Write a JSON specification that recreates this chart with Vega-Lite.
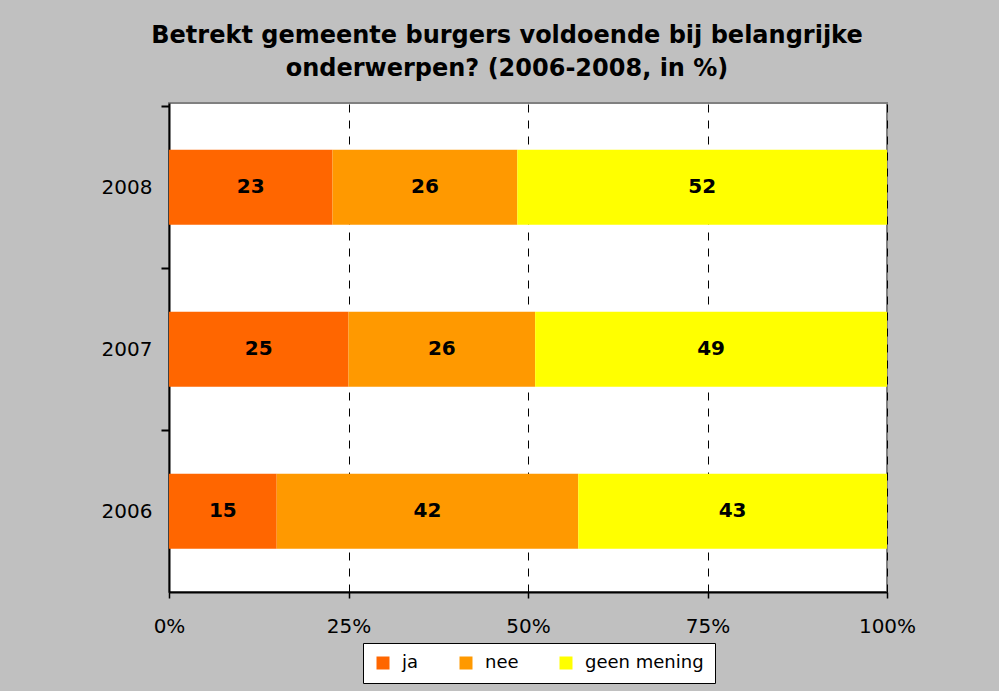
{
  "$schema": "https://vega.github.io/schema/vega-lite/v6.json",
  "width": 718,
  "height": 489,
  "autosize": {"type": "none"},
  "padding": {"left": 169, "top": 103, "right": 112, "bottom": 99},
  "background": "#C0C0C0",
  "title": {
    "text": ["Betrekt gemeente burgers voldoende bij belangrijke", "onderwerpen? (2006-2008, in %)"],
    "font": "DejaVu Sans",
    "fontSize": 24,
    "fontWeight": "bold",
    "color": "#000000",
    "lineHeight": 33,
    "anchor": "middle",
    "dx": -21,
    "offset": 22
  },
  "config": {
    "view": {"fill": "#FFFFFF", "stroke": "#808080", "strokeWidth": 2},
    "axis": {"labelFont": "DejaVu Sans", "labelFontSize": 20, "labelColor": "#000000"}
  },
  "data": {
    "values": [
      {"jaar": "2008", "antwoord": "ja", "volg": 1, "pct": 23},
      {"jaar": "2008", "antwoord": "nee", "volg": 2, "pct": 26},
      {"jaar": "2008", "antwoord": "geen mening", "volg": 3, "pct": 52},
      {"jaar": "2007", "antwoord": "ja", "volg": 1, "pct": 25},
      {"jaar": "2007", "antwoord": "nee", "volg": 2, "pct": 26},
      {"jaar": "2007", "antwoord": "geen mening", "volg": 3, "pct": 49},
      {"jaar": "2006", "antwoord": "ja", "volg": 1, "pct": 15},
      {"jaar": "2006", "antwoord": "nee", "volg": 2, "pct": 42},
      {"jaar": "2006", "antwoord": "geen mening", "volg": 3, "pct": 43}
    ]
  },
  "encoding": {
    "y": {
      "field": "jaar",
      "type": "nominal",
      "sort": "descending",
      "scale": {"paddingInner": 0.537, "paddingOuter": 0.278, "align": 0.52},
      "axis": {
        "title": null,
        "domainColor": "#000000",
        "domainWidth": 2,
        "tickColor": "#000000",
        "tickWidth": 2,
        "tickSize": 8,
        "tickOffset": -81,
        "labelOffset": 81,
        "labelPadding": 9
      }
    }
  },
  "layer": [
    {
      "mark": {"type": "bar"},
      "encoding": {
        "x": {
          "field": "pct",
          "type": "quantitative",
          "stack": "normalize",
          "scale": {"domain": [0, 1], "nice": false},
          "axis": {
            "title": null,
            "values": [0, 0.25, 0.5, 0.75, 1],
            "format": ".0%",
            "labelFlush": false,
            "domainColor": "#000000",
            "domainWidth": 2,
            "tickColor": "#000000",
            "tickWidth": 1.5,
            "tickSize": 6,
            "labelPadding": 18,
            "grid": true,
            "gridColor": "#000000",
            "gridDash": [8, 8],
            "gridWidth": 1
          }
        },
        "color": {
          "field": "antwoord",
          "type": "nominal",
          "scale": {"domain": ["ja", "nee", "geen mening"], "range": ["#FF6600", "#FF9900", "#FFFF00"]},
          "legend": {
            "title": null,
            "orient": "none",
            "direction": "horizontal",
            "legendX": 194,
            "legendY": 540,
            "symbolType": "square",
            "symbolSize": 169,
            "symbolStrokeWidth": 0,
            "symbolOpacity": 1,
            "labelFont": "DejaVu Sans",
            "labelFontSize": 18,
            "labelColor": "#000000",
            "labelOffset": 10,
            "columnPadding": 38,
            "padding": 11,
            "fillColor": "#FFFFFF",
            "strokeColor": "#000000"
          }
        },
        "order": {"field": "volg", "type": "quantitative"}
      }
    },
    {
      "mark": {"type": "text", "font": "DejaVu Sans", "fontSize": 20, "fontWeight": "bold", "color": "#000000"},
      "encoding": {
        "x": {"field": "pct", "type": "quantitative", "stack": "normalize", "bandPosition": 0.5},
        "text": {"field": "pct", "type": "quantitative"},
        "detail": {"field": "antwoord"},
        "order": {"field": "volg", "type": "quantitative"}
      }
    }
  ]
}
